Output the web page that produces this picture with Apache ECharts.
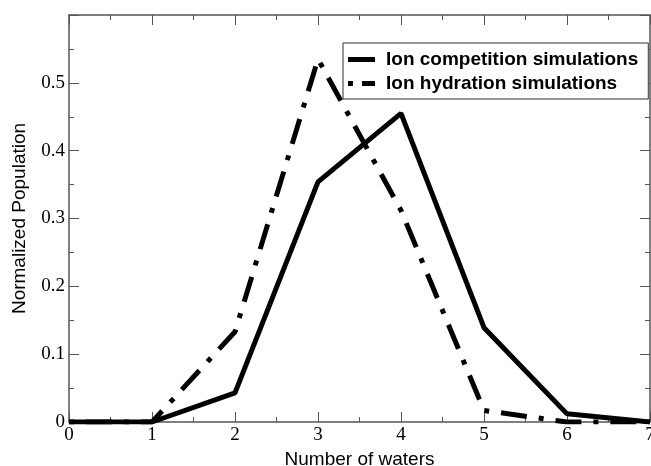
<!DOCTYPE html>
<html>
<head>
<meta charset="utf-8">
<script src="https://cdn.jsdelivr.net/npm/echarts@6/dist/echarts.min.js"></script>
<style>html,body{margin:0;padding:0;background:#fff;}#c{width:651px;height:466px;}</style>
</head>
<body>
<div id="c"></div>
<script>
var waters = [0, 1, 2, 3, 4, 5, 6, 7];
var competition = [0, 0, 0.043, 0.354, 0.455, 0.139, 0.012, 0.0];
var hydration = [0, 0, 0.133, 0.535, 0.312, 0.017, 0.0, 0.0];
var seriesNames = ['Ion competition simulations', 'Ion hydration simulations'];
var xTitle = 'Number of waters';
var yTitle = 'Normalized Population';

function pairs(xs, ys) { return xs.map(function (x, i) { return [x, ys[i]]; }); }

var axisCol = '#555';
var tickFont = { fontFamily: 'Liberation Serif', fontSize: 19, color: '#000' };
function frameAxis(extra) {
  return Object.assign({
    axisLine: { show: true, onZero: false, lineStyle: { color: axisCol, width: 1.5 } },
    axisTick: { show: true, inside: true, length: 10, lineStyle: { color: axisCol } },
    minorTick: { show: true, splitNumber: 2, length: 5, lineStyle: { color: axisCol } },
    splitLine: { show: false }
  }, extra);
}
var chart = echarts.init(document.getElementById('c'), null, { renderer: 'canvas' });
chart.setOption({
  animation: false,
  backgroundColor: '#fff',
  grid: { left: 69, right: 1, top: 15, bottom: 44, containLabel: false, outerBoundsMode: 'none' },
  legend: {
    orient: 'vertical', left: 343, top: 43,
    backgroundColor: '#fff', borderColor: '#333', borderWidth: 1,
    padding: [7, 10, 6, 5], itemGap: 5, itemWidth: 27, itemHeight: 5,
    textStyle: { fontFamily: 'Liberation Sans', fontWeight: 'bold', fontSize: 19, color: '#000', padding: [0, 0, 0, 6] },
    data: [
      { name: seriesNames[0], icon: 'path://M0,0h27v5h-27z' },
      { name: seriesNames[1], icon: 'path://M0,0h5v5h-5z M14,0h13v5h-13z' }
    ]
  },
  xAxis: [frameAxis({
    type: 'value', min: 0, max: 7, interval: 1,
    name: xTitle, nameLocation: 'middle', nameGap: 24,
    nameTextStyle: { fontFamily: 'Liberation Sans', fontSize: 19, color: '#000' },
    axisLabel: Object.assign({ margin: 4 }, tickFont)
  }), frameAxis({
    type: 'value', min: 0, max: 7, interval: 1, position: 'top',
    axisLabel: { show: false }
  })],
  yAxis: [frameAxis({
    type: 'value', min: 0, max: 0.6, interval: 0.1,
    name: yTitle, nameLocation: 'middle', nameGap: 40,
    nameTextStyle: { fontFamily: 'Liberation Sans', fontSize: 19, color: '#000' },
    axisLabel: Object.assign({ margin: 4, formatter: function (v) { return v >= 0.6 ? '' : String(Math.round(v * 10) / 10); } }, tickFont)
  }), frameAxis({
    type: 'value', min: 0, max: 0.6, interval: 0.1, position: 'right',
    axisLabel: { show: false }
  })],
  series: [{
    name: seriesNames[0], type: 'line', xAxisIndex: 0, yAxisIndex: 0,
    data: pairs(waters, competition), symbol: 'none', z: 3,
    lineStyle: { color: '#000', width: 5, type: 'solid' },
    itemStyle: { color: '#000' }
  }, {
    name: seriesNames[1], type: 'line', xAxisIndex: 0, yAxisIndex: 0,
    data: pairs(waters, hydration), symbol: 'none', z: 3,
    lineStyle: { color: '#000', width: 5, type: [5, 12, 26, 12], cap: 'butt' },
    itemStyle: { color: '#000' }
  }]
});
</script>
</body>
</html>
